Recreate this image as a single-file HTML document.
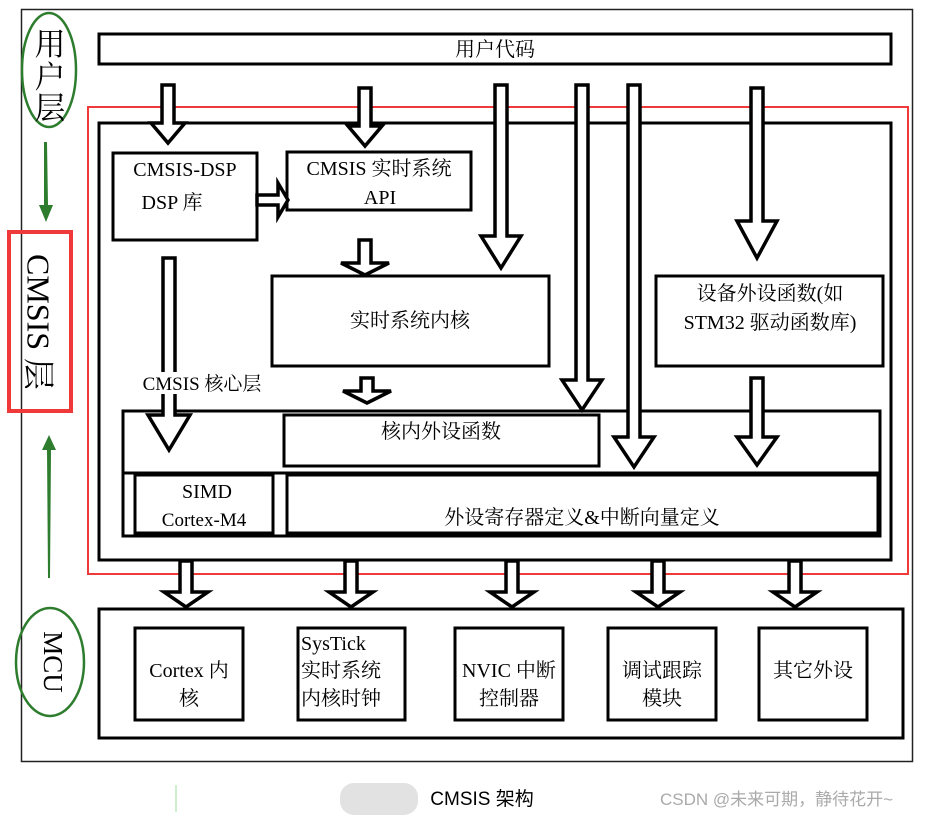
<!DOCTYPE html>
<html><head><meta charset="utf-8"><style>
html,body{margin:0;padding:0;background:#fff;}
svg{display:block;}
text{font-family:"Liberation Serif","Noto Serif CJK SC",serif;fill:#000;}
</style></head><body>
<svg width="939" height="816" viewBox="0 0 939 816" xmlns="http://www.w3.org/2000/svg">
<rect x="21.5" y="9.5" width="891" height="752" fill="none" stroke="#222" stroke-width="1.5"/>
<ellipse cx="49" cy="70" rx="27" ry="57" fill="none" stroke="#2e7d2e" stroke-width="2.5"/>
<text x="50" y="55" font-size="31" text-anchor="middle">用</text>
<text x="50" y="88" font-size="31" text-anchor="middle">户</text>
<text x="50" y="119" font-size="31" text-anchor="middle">层</text>
<polygon points="44,142 47,142 48,205 53,205 46,222 39,205 44,205" fill="#2e7d2e"/>
<rect x="9" y="232" width="62" height="179" fill="none" stroke="#f03a3a" stroke-width="4"/>
<text transform="translate(35,322) rotate(90)" font-size="32" text-anchor="middle" dominant-baseline="middle">CMSIS 层</text>
<polygon points="48,578 50,578 51,450 56,450 49,435 42,450 47,450" fill="#2e7d2e"/>
<ellipse cx="50" cy="662" rx="34" ry="54" fill="none" stroke="#2e7d2e" stroke-width="2.5"/>
<text transform="translate(50,662) rotate(90)" font-size="27" text-anchor="middle" dominant-baseline="middle">MCU</text>
<rect x="99" y="34" width="792" height="30" fill="none" stroke="#000" stroke-width="3"/>
<text x="495" y="56" font-size="20" text-anchor="middle">用户代码</text>
<rect x="88" y="107" width="820" height="467" fill="none" stroke="#f03a3a" stroke-width="2"/>
<rect x="99" y="123" width="792" height="437" fill="none" stroke="#000" stroke-width="3"/>
<rect x="113" y="153" width="144" height="87" fill="#fff" stroke="#000" stroke-width="3"/>
<text x="185" y="176" font-size="20" text-anchor="middle">CMSIS-DSP</text>
<text x="172" y="209" font-size="20" text-anchor="middle">DSP 库</text>
<rect x="287" y="152" width="184" height="58" fill="#fff" stroke="#000" stroke-width="3"/>
<text x="379" y="175" font-size="20" text-anchor="middle">CMSIS 实时系统</text>
<text x="380" y="204" font-size="20" text-anchor="middle">API</text>
<rect x="272" y="276" width="277" height="90" fill="#fff" stroke="#000" stroke-width="3"/>
<text x="410" y="327" font-size="20" text-anchor="middle">实时系统内核</text>
<rect x="656" y="276" width="227" height="90" fill="#fff" stroke="#000" stroke-width="3"/>
<text x="770" y="300" font-size="20" text-anchor="middle">设备外设函数(如</text>
<text x="770" y="329" font-size="20" text-anchor="middle">STM32 驱动函数库)</text>
<rect x="123" y="411" width="757" height="125" fill="none" stroke="#000" stroke-width="3"/>
<line x1="122" y1="473" x2="881" y2="473" stroke="#000" stroke-width="3"/>
<rect x="284" y="415" width="315" height="51" fill="#fff" stroke="#000" stroke-width="3"/>
<text x="441" y="438" font-size="20" text-anchor="middle">核内外设函数</text>
<rect x="135" y="475" width="138" height="58" fill="#fff" stroke="#000" stroke-width="3"/>
<text x="207" y="498" font-size="20" text-anchor="middle">SIMD</text>
<text x="204" y="526" font-size="19" text-anchor="middle">Cortex-M4</text>
<rect x="287" y="475" width="591" height="58" fill="#fff" stroke="#000" stroke-width="3"/>
<text x="582" y="524" font-size="20" text-anchor="middle">外设寄存器定义&amp;中断向量定义</text>
<g fill="#fff" stroke="#000" stroke-width="3.5" stroke-linejoin="miter">
<polygon points="162,85 174,85 174,123 185,123 168,143 151,123 162,123"/>
<polygon points="359,88 371,88 371,126 382,126 365,146 348,126 359,126"/>
<polygon points="495,85 507,85 507,236 521,236 501,268 481,236 495,236"/>
<polygon points="576,85 588,85 588,380 602,380 582,410 562,380 576,380"/>
<polygon points="628,85 640,85 640,437 654,437 634,467 614,437 628,437"/>
<polygon points="751,88 763,88 763,221 777,221 757,258 737,221 751,221"/>
<polygon points="163,258 175,258 175,415 190,415 169,450 148,415 163,415"/>
<polygon points="359,240 371,240 371,263 389,263 365,275 341,263 359,263"/>
<polygon points="361,378 373,378 373,391 391,391 367,403 343,391 361,391"/>
<polygon points="751,378 763,378 763,437 777,437 757,465 737,437 751,437"/>
<polygon points="257,195 278,195 278,183 288,200 278,217 278,205 257,205"/>
<polygon points="180,561 192,561 192,592 208,592 186,607 164,592 180,592"/>
<polygon points="345,561 357,561 357,592 373,592 351,607 329,592 345,592"/>
<polygon points="506,561 518,561 518,592 534,592 512,607 490,592 506,592"/>
<polygon points="652,561 664,561 664,592 680,592 658,607 636,592 652,592"/>
<polygon points="789,561 801,561 801,592 817,592 795,607 773,592 789,592"/>
</g>
<rect x="133" y="372" width="140" height="22" fill="#fff"/>
<text x="202" y="390" font-size="19" text-anchor="middle">CMSIS 核心层</text>
<rect x="99" y="609" width="804" height="129" fill="none" stroke="#000" stroke-width="3"/>
<g fill="#fff" stroke="#000" stroke-width="3">
<rect x="135" y="628" width="108" height="92"/>
<rect x="298" y="628" width="107" height="92"/>
<rect x="455" y="628" width="108" height="92"/>
<rect x="608" y="628" width="108" height="92"/>
<rect x="759" y="628" width="108" height="92"/>
</g>
<g font-size="20">
<text x="189" y="677" text-anchor="middle">Cortex 内</text>
<text x="189" y="705" text-anchor="middle">核</text>
<text x="301" y="650">SysTick</text>
<text x="301" y="677">实时系统</text>
<text x="301" y="705">内核时钟</text>
<text x="509" y="677" text-anchor="middle">NVIC 中断</text>
<text x="509" y="705" text-anchor="middle">控制器</text>
<text x="662" y="677" text-anchor="middle">调试跟踪</text>
<text x="662" y="705" text-anchor="middle">模块</text>
<text x="813" y="677" text-anchor="middle">其它外设</text>
</g>
<line x1="176" y1="785" x2="176" y2="812" stroke="#9be09b" stroke-width="1"/>
<rect x="340" y="783" width="78" height="32" rx="14" fill="#e2e2e2"/>
<text x="482" y="805" font-size="19" text-anchor="middle" style="font-family:'Liberation Sans','Noto Sans CJK SC',sans-serif">CMSIS 架构</text>
<text x="660" y="805" font-size="17" style="font-family:'Liberation Sans','Noto Sans CJK SC',sans-serif;fill:#aaa">CSDN @未来可期，静待花开~</text>
</svg>
</body></html>
